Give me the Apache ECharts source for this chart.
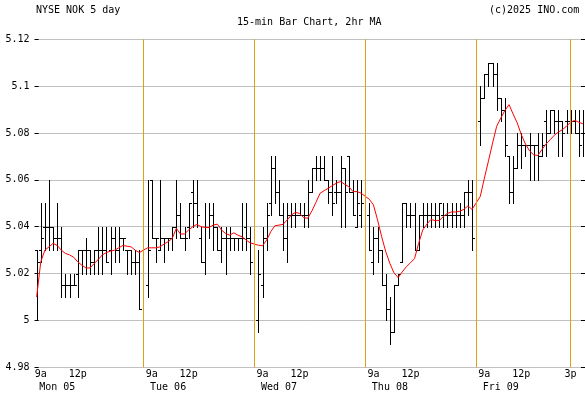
<!DOCTYPE html>
<html><head><meta charset="utf-8">
<script src="https://cdn.jsdelivr.net/npm/echarts@6/dist/echarts.min.js"></script>
<style>html,body{margin:0;padding:0;background:#fff}#c{width:585px;height:394px}</style>
</head><body><div id="c"></div>
<script>
// ---- data ----
const dayNames = ['Mon 05', 'Tue 06', 'Wed 07', 'Thu 08', 'Fri 09'];
const barTimes = ['9:30','9:45','10:00','10:15','10:30','10:45','11:00','11:15','11:30','11:45','12:00','12:15','12:30',
  '12:45','13:00','13:15','13:30','13:45','14:00','14:15','14:30','14:45','15:00','15:15','15:30','15:45'];
// [open, high, low, close]
const monBars = [[5.03,5.03,5.00,5.025],[5.03,5.05,5.025,5.035],[5.04,5.05,5.03,5.04],[5.04,5.06,5.03,5.04],[5.04,5.04,5.03,5.035],
  [5.035,5.05,5.03,5.035],[5.035,5.04,5.01,5.015],[5.015,5.02,5.01,5.015],[5.015,5.02,5.01,5.015],[5.015,5.02,5.015,5.015],
  [5.02,5.03,5.01,5.03],[5.03,5.03,5.02,5.03],[5.03,5.035,5.02,5.03],[5.03,5.03,5.02,5.025],[5.025,5.03,5.02,5.03],
  [5.03,5.04,5.02,5.03],[5.03,5.04,5.02,5.03],[5.03,5.04,5.025,5.025],[5.03,5.04,5.02,5.035],[5.035,5.04,5.025,5.03],
  [5.03,5.04,5.025,5.035],[5.035,5.035,5.03,5.035],[5.03,5.03,5.02,5.03],[5.03,5.03,5.02,5.025],[5.025,5.03,5.02,5.025],
  [5.025,5.03,5.005,5.005]];
const tueBars = [[5.015,5.06,5.01,5.03],[5.06,5.06,5.035,5.035],[5.035,5.035,5.025,5.035],[5.03,5.06,5.03,5.035],[5.035,5.035,5.025,5.035],
  [5.035,5.035,5.03,5.035],[5.035,5.04,5.03,5.04],[5.04,5.06,5.035,5.045],[5.045,5.05,5.035,5.035],[5.035,5.04,5.03,5.035],
  [5.04,5.05,5.035,5.05],[5.055,5.06,5.04,5.05],[5.05,5.06,5.04,5.045],[5.035,5.04,5.025,5.025],[5.025,5.05,5.02,5.04],
  [5.04,5.05,5.035,5.045],[5.045,5.05,5.03,5.04],[5.04,5.04,5.03,5.03],[5.03,5.04,5.025,5.035],[5.035,5.04,5.02,5.035],
  [5.035,5.04,5.03,5.035],[5.035,5.035,5.03,5.035],[5.035,5.035,5.03,5.035],[5.035,5.05,5.03,5.035],[5.04,5.05,5.03,5.035],
  [5.035,5.04,5.02,5.025]];
const wedBars = [[5.00,5.03,4.995,5.02],[5.015,5.04,5.01,5.035],[5.035,5.05,5.03,5.045],[5.05,5.07,5.045,5.065],[5.065,5.07,5.05,5.055],
  [5.055,5.06,5.045,5.045],[5.045,5.05,5.03,5.035],[5.035,5.05,5.025,5.045],[5.045,5.05,5.04,5.045],[5.045,5.05,5.04,5.045],
  [5.045,5.05,5.045,5.045],[5.045,5.05,5.04,5.045],[5.045,5.06,5.04,5.055],[5.055,5.065,5.055,5.065],[5.065,5.07,5.06,5.065],
  [5.065,5.07,5.06,5.065],[5.065,5.07,5.06,5.06],[5.06,5.06,5.05,5.055],[5.055,5.07,5.045,5.05],[5.055,5.06,5.05,5.055],
  [5.055,5.07,5.04,5.065],[5.065,5.065,5.04,5.055],[5.07,5.07,5.055,5.055],[5.055,5.06,5.045,5.045],[5.04,5.06,5.04,5.05],
  [5.045,5.06,5.04,5.05]];
const thuBars = [[5.045,5.05,5.03,5.03],[5.025,5.04,5.02,5.035],[5.035,5.04,5.025,5.03],[5.03,5.03,5.015,5.015],[5.015,5.02,5.00,5.005],
  [5.005,5.01,4.99,4.995],[4.995,5.015,4.995,5.015],[5.015,5.02,5.015,5.02],[5.025,5.05,5.025,5.05],[5.05,5.05,5.04,5.045],
  [5.045,5.05,5.04,5.045],[5.045,5.05,5.03,5.03],[5.03,5.045,5.03,5.045],[5.045,5.05,5.04,5.045],[5.045,5.05,5.04,5.045],
  [5.045,5.05,5.04,5.045],[5.045,5.05,5.04,5.045],[5.045,5.05,5.04,5.05],[5.045,5.05,5.04,5.045],[5.045,5.05,5.04,5.045],
  [5.045,5.05,5.04,5.045],[5.045,5.05,5.04,5.045],[5.045,5.05,5.04,5.045],[5.045,5.055,5.04,5.055],[5.055,5.06,5.045,5.055],
  [5.055,5.06,5.03,5.035]];
const friBars = [[5.085,5.10,5.075,5.095],[5.095,5.105,5.095,5.105],[5.105,5.11,5.10,5.11],[5.11,5.11,5.10,5.105],[5.105,5.11,5.09,5.095],
  [5.095,5.095,5.085,5.09],[5.09,5.095,5.07,5.075],[5.07,5.07,5.05,5.055],[5.055,5.07,5.05,5.065],[5.065,5.08,5.065,5.075],
  [5.075,5.08,5.065,5.075],[5.075,5.075,5.07,5.075],[5.075,5.08,5.06,5.075],[5.075,5.075,5.06,5.075],[5.075,5.08,5.06,5.07],
  [5.07,5.08,5.07,5.075],[5.085,5.09,5.07,5.08],[5.08,5.09,5.08,5.09],[5.09,5.09,5.08,5.085],[5.085,5.09,5.07,5.085],
  [5.085,5.085,5.07,5.08],[5.085,5.09,5.08,5.085],[5.085,5.09,5.08,5.085],[5.085,5.09,5.08,5.08],[5.08,5.09,5.07,5.075],
  [5.08,5.09,5.07,5.08]];
// 2hr moving average
const monMA = [5.010,5.025,5.030,5.0314,5.0329,5.032,5.030,5.0286,5.028,5.027,5.025,5.0236,5.0224,5.0224,5.0243,5.026,5.028,5.029,5.0296,5.030,5.031,5.032,5.0317,5.0314,5.030,5.029];
const tueMA = [5.031,5.031,5.031,5.0314,5.0326,5.0336,5.035,5.0393,5.0369,5.0369,5.0386,5.040,5.041,5.040,5.0397,5.0397,5.0407,5.0411,5.0386,5.0371,5.0364,5.0374,5.0364,5.0357,5.0343,5.0331];
const wedMA = [5.0321,5.0319,5.0343,5.0379,5.0404,5.0407,5.041,5.0429,5.045,5.0461,5.0457,5.0439,5.0436,5.0467,5.0504,5.0543,5.0554,5.0564,5.0576,5.0586,5.0593,5.0581,5.0571,5.055,5.055,5.0543];
const thuMA = [5.0517,5.0493,5.0429,5.0357,5.0293,5.0243,5.0203,5.0183,5.0207,5.0229,5.0246,5.0264,5.0329,5.0386,5.0411,5.0431,5.0426,5.0426,5.0443,5.0457,5.0463,5.0463,5.0466,5.0474,5.0489,5.0474];
const friMA = [5.0529,5.0607,5.0681,5.0757,5.0829,5.0864,5.0896,5.0921,5.0881,5.0843,5.0793,5.0753,5.0724,5.0707,5.0704,5.0729,5.0753,5.0771,5.079,5.0804,5.0814,5.0829,5.0846,5.0854,5.0846,5.0839];
// tick labels (bar index within a day -> text)
const timeTickBars = [1, 10];
const timeTickTexts = ['9a', '12p'];
const lastDayExtraBar = 22;
const lastDayExtraText = '3p';
const dayLabelBar = 5;
const yMin = 4.98, yMax = 5.12, yStep = 0.02;

// ---- build slots (one empty slot before each day after the first) ----
const allBars = [monBars, tueBars, wedBars, thuBars, friBars];
const allMA = [monMA, tueMA, wedMA, thuMA, friMA];
const categories = [];
const ohlc = [];
const ma = [];
const timeLabelAt = {};
const dayLabelAt = {};
const separators = [];
dayNames.forEach((d, di) => {
  if (di > 0) { separators.push(d + ' open'); categories.push(d + ' open'); }
  barTimes.forEach((t, bi) => {
    const idx = categories.length;
    categories.push(d + ' ' + t);
    const b = allBars[di][bi];
    ohlc.push([idx, b[0], b[1], b[2], b[3]]);
    ma.push([idx, allMA[di][bi]]);
    const k = timeTickBars.indexOf(bi);
    if (k >= 0) timeLabelAt[idx] = timeTickTexts[k];
    if (di === dayNames.length - 1 && bi === lastDayExtraBar) {
      timeLabelAt[idx] = lastDayExtraText;
      separators.push(d + ' ' + t);
    }
    if (bi === dayLabelBar) dayLabelAt[idx] = d;
  });
});

const FONT = 'DejaVu Sans Mono';
const chart = echarts.init(document.getElementById('c'), null, {renderer: 'canvas'});
chart.setOption({
  animation: false,
  backgroundColor: '#fff',
  title: [
    {text: 'NYSE NOK 5 day', left: 36, top: 5, padding: 0, textStyle: {fontFamily: FONT, fontSize: 10, fontWeight: 'normal', color: '#000'}},
    {text: '15-min Bar Chart, 2hr MA', left: 237, top: 17, padding: 0, textStyle: {fontFamily: FONT, fontSize: 10, fontWeight: 'normal', color: '#000'}},
    {text: '(c)2025 INO.com', left: 489, top: 5, padding: 0, textStyle: {fontFamily: FONT, fontSize: 10, fontWeight: 'normal', color: '#000'}}
  ],
  grid: {left: 34.6, top: 39.3, width: 551.6, height: 328, containLabel: false, show: false},
  xAxis: [
    {type: 'category', data: categories, boundaryGap: true, position: 'bottom',
      axisLine: {show: false}, axisTick: {show: false}, splitLine: {show: false},
      axisLabel: {show: true, interval: (i) => timeLabelAt[i] !== undefined, formatter: (v, i) => timeLabelAt[i] || '',
        fontFamily: FONT, fontSize: 10, color: '#000', margin: 2}},
    {type: 'category', data: categories, boundaryGap: true, position: 'bottom', offset: 13,
      axisLine: {show: false}, axisTick: {show: false}, splitLine: {show: false},
      axisLabel: {show: true, interval: (i) => dayLabelAt[i] !== undefined, formatter: (v, i) => dayLabelAt[i] || '',
        fontFamily: FONT, fontSize: 10, color: '#000', margin: 2}}
  ],
  yAxis: [
    {type: 'value', min: yMin, max: yMax, interval: yStep, position: 'left',
      axisLine: {show: false},
      axisTick: {show: true, inside: true, length: 4, lineStyle: {color: '#000', width: 1}},
      splitLine: {show: true, lineStyle: {color: '#c0c0c0', width: 1}},
      axisLabel: {formatter: (v) => String(parseFloat(v.toFixed(2))), fontFamily: FONT, fontSize: 10, color: '#000', margin: 5}},
    {type: 'value', min: yMin, max: yMax, interval: yStep, position: 'right',
      axisLine: {show: false},
      axisTick: {show: true, inside: true, length: 4, lineStyle: {color: '#000', width: 1}},
      splitLine: {show: false}, axisLabel: {show: false}}
  ],
  series: [
    {type: 'custom', name: 'bars', xAxisIndex: 0, yAxisIndex: 0, z: 2,
      data: ohlc, encode: {x: 0, y: [1, 2, 3, 4]},
      renderItem: function (params, api) {
        const x = api.value(0);
        const pO = api.coord([x, api.value(1)]);
        const pH = api.coord([x, api.value(2)]);
        const pL = api.coord([x, api.value(3)]);
        const pC = api.coord([x, api.value(4)]);
        const xi = Math.round(pH[0]);
        const cx = xi + 0.5;
        const st = {stroke: '#000', lineWidth: 1};
        const yo = Math.round(pO[1]) + 0.5, yc = Math.round(pC[1]) + 0.5;
        return {type: 'group', children: [
          {type: 'line', shape: {x1: cx, y1: Math.round(pH[1]), x2: cx, y2: Math.round(pL[1]) + 1}, style: st},
          {type: 'line', shape: {x1: xi - 2, y1: yo, x2: xi, y2: yo}, style: st},
          {type: 'line', shape: {x1: xi + 1, y1: yc, x2: xi + 3, y2: yc}, style: st}
        ]};
      },
      markLine: {silent: true, symbol: ['none', 'none'], label: {show: false},
        lineStyle: {color: '#e0a010', width: 1, type: 'solid'},
        data: separators.map(s => ({xAxis: s}))}
    },
    {type: 'line', name: 'MA', xAxisIndex: 0, yAxisIndex: 0, z: 3, data: ma,
      showSymbol: false, symbol: 'none', connectNulls: true,
      lineStyle: {color: '#ff0000', width: 1}}
  ]
});
</script>
</body></html>
